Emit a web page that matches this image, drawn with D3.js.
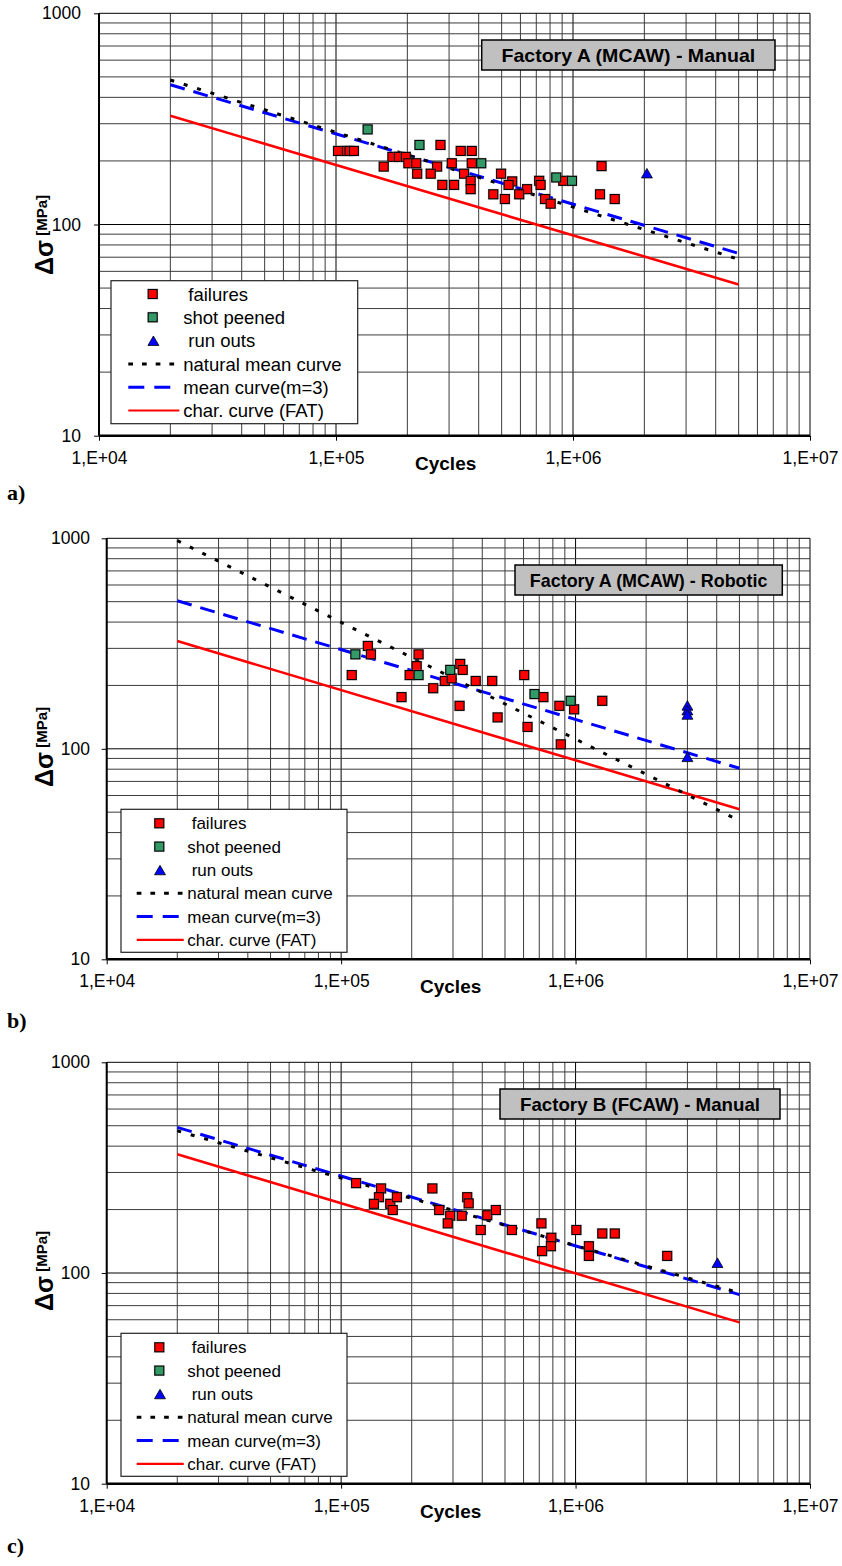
<!DOCTYPE html>
<html><head><meta charset="utf-8">
<script src="https://cdn.jsdelivr.net/npm/d3@7"></script>
<style>body{margin:0;background:#fff}svg{display:block}</style>
</head><body><svg id="chart" width="842" height="1566"></svg>
<script>
// ---------- text / ticks ----------
const xTickValues = [1e4, 1e5, 1e6, 1e7];
const xTickLabels = ["1,E+04", "1,E+05", "1,E+06", "1,E+07"];
const yTickValues = [10, 100, 1000];
const yTickLabels = ["10", "100", "1000"];
const legendLabels = ["failures", "shot peened", "run outs", "natural mean curve", "mean curve(m=3)", "char. curve (FAT)"];
const panelTitles = ["Factory A (MCAW) - Manual", "Factory A (MCAW) - Robotic", "Factory B (FCAW) - Manual"];
const panelLetters = ["a)", "b)", "c)"];
const xTitle = "Cycles";

// ---------- panel a data [cycles, stress range MPa] ----------
const aFailures = [
  [1.02e5,223],[1.11e5,223],[1.14e5,223],[1.19e5,223],
  [2.76e5,238],[3.36e5,223],[3.74e5,223],
  [1.73e5,209],[1.84e5,209],[1.97e5,209],
  [2.02e5,195],[2.18e5,195],[3.08e5,195],[3.74e5,195],
  [1.59e5,188],[2.67e5,188],
  [2.20e5,174],[2.51e5,174],[3.47e5,174],[4.97e5,174],
  [3.70e5,161],[3.70e5,147],[2.81e5,154],[3.15e5,154],
  [5.54e5,160],[5.35e5,154],[7.2e5,161],[7.3e5,154],[9.1e5,161],[6.4e5,147],
  [4.61e5,139],[5.16e5,132],[5.93e5,139],[7.62e5,132],[8.05e5,125.5],
  [1.32e6,189],[1.30e6,139],[1.50e6,132]
];
const aPeened = [[1.36e5,282],[2.25e5,238],[4.10e5,195],[8.5e5,167],[9.9e5,161]];
const aRunouts = [[2.05e6,172]];
const aNatural = [[2e4,483],[5e6,68.4]];
const aMean = [[2e4,459],[5e6,73]];
const aChar = [[2e4,327],[5e6,52]];

// ---------- panel b data ----------
const bFailures = [
  [1.30e5,308],[1.34e5,281],[1.11e5,224],[1.81e5,176],[2.14e5,281],[2.10e5,247],
  [1.96e5,224],[2.47e5,194],[2.77e5,210],[2.96e5,216],[3.22e5,253],[3.3e5,237],
  [3.2e5,160],[3.75e5,210],[4.41e5,210],[4.65e5,141],[6.04e5,224],[6.24e5,127],
  [7.29e5,176],[8.53e5,160],[8.65e5,105],[9.86e5,154],[1.30e6,169]
];
const bPeened = [[1.15e5,281],[2.14e5,224],[2.92e5,237],[6.68e5,182],[9.53e5,169]];
const bRunouts = [[3e6,158],[3e6,150],[3e6,143],[3e6,90]];
const bNatural = [[2e4,975],[5e6,45.5]];
const bMean = [[2e4,505],[5e6,80.8]];
const bChar = [[2e4,325],[5e6,51.6]];

// ---------- panel c data ----------
const cFailures = [
  [1.158e5,267],[1.48e5,252],[1.45e5,229],[1.38e5,213],[1.62e5,213],[1.66e5,199],
  [1.73e5,229],[2.45e5,252],[2.62e5,199],[2.92e5,187],[2.85e5,172],[3.27e5,187],
  [3.45e5,229],[3.5e5,214],[3.94e5,160],[4.2e5,188],[4.57e5,199],[5.35e5,160],
  [7.15e5,172],[7.88e5,147],[7.85e5,134],[7.2e5,127],[1.008e6,160],[1.14e6,134],
  [1.14e6,120.5],[1.30e6,154],[1.47e6,154],[2.46e6,120.5]
];
const cPeened = [];
const cRunouts = [[4.03e6,110]];
const cNatural = [[2e4,473],[5e6,80.5]];
const cMean = [[2e4,491],[5e6,79]];
const cChar = [[2e4,366],[5e6,58.3]];

// ---------- layout ----------
const panels = [
  {failures:aFailures, peened:aPeened, runouts:aRunouts, natural:aNatural, mean:aMean, fat:aChar,
   x0:99, x1:810, y0:435.7, y1:13.3,
   legend:{x:111, y:280.7, w:246.7, h:143, r0:13.3, dr:23.3, markX:41.7, textX:[77.3,72.3,77.3,72.3,72.3,72.3], l0:17.3, l1:67.3, fs:18.5},
   title:{x:481.7, y:40, w:293.3, h:30, len:253.7},
   yLab:{x:53, y:275}, tickEnd:81, cyclesX:415, letterY:500},
  {failures:bFailures, peened:bPeened, runouts:bRunouts, natural:bNatural, mean:bMean, fat:bChar,
   x0:106.7, x1:810, y0:959.3, y1:538.3,
   legend:{x:121, y:809.3, w:226, h:143, r0:14, dr:23.3, markX:38.3, textX:[70.7,66.3,70.7,66.3,66.3,66.3], l0:15.7, l1:61.7, fs:17},
   title:{x:515, y:565, w:267.3, h:30, len:237.7},
   yLab:{x:53, y:787}, tickEnd:90, cyclesX:420, letterY:1028},
  {failures:cFailures, peened:cPeened, runouts:cRunouts, natural:cNatural, mean:cMean, fat:cChar,
   x0:106.7, x1:810, y0:1483.7, y1:1062.3,
   legend:{x:121, y:1333.3, w:226, h:143, r0:14, dr:23.3, markX:38.3, textX:[70.7,66.3,70.7,66.3,66.3,66.3], l0:15.7, l1:61.7, fs:17},
   title:{x:500, y:1089, w:280, h:30, len:240},
   yLab:{x:53, y:1311}, tickEnd:90, cyclesX:420, letterY:1553}
];

const FONT = "'Liberation Sans', Arial, sans-serif";
const RED = "#ff0000", GREEN = "#339966", BLUE = "#0000ff";
const svg = d3.select("#chart");

function drawSquare(g, cx, cy, fill) {
  g.append("rect").attr("x", cx - 5.5).attr("y", cy - 5.5).attr("width", 11).attr("height", 11)
    .attr("fill", "#888").attr("opacity", 0.45);
  g.append("rect").attr("x", cx - 4.5).attr("y", cy - 4.5).attr("width", 9).attr("height", 9)
    .attr("fill", fill).attr("stroke", "#000").attr("stroke-width", 1.1);
}
function drawTriangle(g, cx, cy) {
  g.append("path").attr("d", d3.symbol().type(d3.symbolTriangle).size(52)())
    .attr("transform", `translate(${cx},${cy})`)
    .attr("fill", BLUE).attr("stroke", "#000").attr("stroke-width", 0.8);
}

panels.forEach((p, i) => {
  const x = d3.scaleLog().domain([1e4, 1e7]).range([p.x0, p.x1]);
  const y = d3.scaleLog().domain([10, 1000]).range([p.y0, p.y1]);
  const g = svg.append("g");

  // grid
  const gx = [], gy = [];
  [1e4, 1e5, 1e6].forEach(k => { for (let m = 1; m <= 9; m++) gx.push({v: m * k, major: m === 1}); });
  gx.push({v: 1e7, major: true});
  [10, 100].forEach(k => { for (let m = 1; m <= 9; m++) gy.push({v: m * k, major: m === 1}); });
  gy.push({v: 1000, major: true});
  const grid = g.append("g");
  grid.selectAll("line.gx").data(gx).join("line")
    .attr("x1", d => x(d.v)).attr("x2", d => x(d.v)).attr("y1", p.y1).attr("y2", p.y0)
    .attr("stroke", d => d.major ? "#000" : "#3c3c3c").attr("stroke-width", 1);
  grid.selectAll("line.gy").data(gy).join("line")
    .attr("y1", d => y(d.v)).attr("y2", d => y(d.v)).attr("x1", p.x0).attr("x2", p.x1)
    .attr("stroke", d => d.major ? "#000" : "#3c3c3c").attr("stroke-width", 1);

  // curves
  const line = d3.line().x(d => x(d[0])).y(d => y(d[1]));
  g.append("path").datum(p.fat).attr("d", line).attr("fill", "none").attr("stroke", RED).attr("stroke-width", 2.6);
  g.append("path").datum(p.mean).attr("d", line).attr("fill", "none").attr("stroke", BLUE).attr("stroke-width", 3).attr("stroke-dasharray", "15,9");
  g.append("path").datum(p.natural).attr("d", line).attr("fill", "none").attr("stroke", "#000").attr("stroke-width", 3).attr("stroke-dasharray", "4,10");

  // points
  const pts = g.append("g");
  p.failures.forEach(d => drawSquare(pts, x(d[0]), y(d[1]), RED));
  p.peened.forEach(d => drawSquare(pts, x(d[0]), y(d[1]), GREEN));
  p.runouts.forEach(d => drawTriangle(pts, x(d[0]), y(d[1])));

  // axes
  const xAxis = d3.axisBottom(x).tickValues(xTickValues).tickFormat((d, j) => xTickLabels[j]).tickSize(5).tickPadding(9);
  const ax = g.append("g").attr("transform", `translate(0,${p.y0})`).call(xAxis);
  ax.select(".domain").attr("stroke-width", 2.5).attr("d", `M${p.x0},0H${p.x1}`);
  ax.selectAll("text").attr("font-family", FONT).attr("font-size", 17.5).attr("fill", "#000").attr("dy", "0.8em");
  const yAxis = d3.axisLeft(y).tickValues(yTickValues).tickFormat((d, j) => yTickLabels[j]).tickSize(5).tickPadding(p.x0 - 5 - p.tickEnd);
  const ay = g.append("g").attr("transform", `translate(${p.x0},0)`).call(yAxis);
  ay.select(".domain").attr("stroke-width", 2).attr("d", `M0,${p.y0}V${p.y1}`);
  ay.selectAll("text").attr("font-family", FONT).attr("font-size", 17.5).attr("fill", "#000");

  // axis titles
  g.append("text").attr("x", p.cyclesX).attr("y", p.y0 + 34).attr("font-family", FONT)
    .attr("font-weight", "bold").attr("font-size", 19).text(xTitle);
  const yl = g.append("text").attr("transform", `translate(${p.yLab.x},${p.yLab.y}) rotate(-90)`)
    .attr("font-family", FONT).attr("font-weight", "bold");
  yl.append("tspan").attr("font-size", 25).text("Δσ");
  yl.append("tspan").attr("font-size", 15).attr("dy", -6).text("\u00a0[MPa]");

  // legend
  const L = p.legend;
  const lg = g.append("g").attr("transform", `translate(${L.x},${L.y})`);
  lg.append("rect").attr("width", L.w).attr("height", L.h).attr("fill", "#fff").attr("stroke", "#222").attr("stroke-width", 1.2);
  const ry = k => L.r0 + k * L.dr;
  drawSquare(lg, L.markX, ry(0), RED);
  drawSquare(lg, L.markX, ry(1), GREEN);
  drawTriangle(lg, L.markX + 0.7, ry(2) + 1.7);
  lg.append("line").attr("x1", L.l0).attr("x2", L.l1).attr("y1", ry(3)).attr("y2", ry(3))
    .attr("stroke", "#000").attr("stroke-width", 3).attr("stroke-dasharray", "4.7,9");
  lg.append("line").attr("x1", L.l0).attr("x2", L.l1).attr("y1", ry(4)).attr("y2", ry(4))
    .attr("stroke", BLUE).attr("stroke-width", 3).attr("stroke-dasharray", "16,10");
  lg.append("line").attr("x1", L.l0).attr("x2", L.l1 + 1).attr("y1", ry(5)).attr("y2", ry(5))
    .attr("stroke", RED).attr("stroke-width", 2.2);
  legendLabels.forEach((t, k) => {
    lg.append("text").attr("x", L.textX[k]).attr("y", ry(k)).attr("dy", "0.36em")
      .attr("font-family", FONT).attr("font-size", L.fs).attr("fill", "#000").text(t);
  });

  // title box
  const T = p.title;
  g.append("rect").attr("x", T.x).attr("y", T.y).attr("width", T.w).attr("height", T.h)
    .attr("fill", "#c0c0c0").attr("stroke", "#000").attr("stroke-width", 1.5);
  g.append("text").attr("x", T.x + T.w / 2).attr("y", T.y + T.h / 2).attr("dy", "0.36em")
    .attr("text-anchor", "middle").attr("font-family", FONT).attr("font-weight", "bold")
    .attr("font-size", 19).attr("textLength", T.len).attr("lengthAdjust", "spacingAndGlyphs")
    .text(panelTitles[i]);

  // panel letter
  svg.append("text").attr("x", 7).attr("y", p.letterY).attr("font-family", "'Liberation Serif', 'Times New Roman', serif")
    .attr("font-weight", "bold").attr("font-size", 22).text(panelLetters[i]);
});
</script>
</body></html>
